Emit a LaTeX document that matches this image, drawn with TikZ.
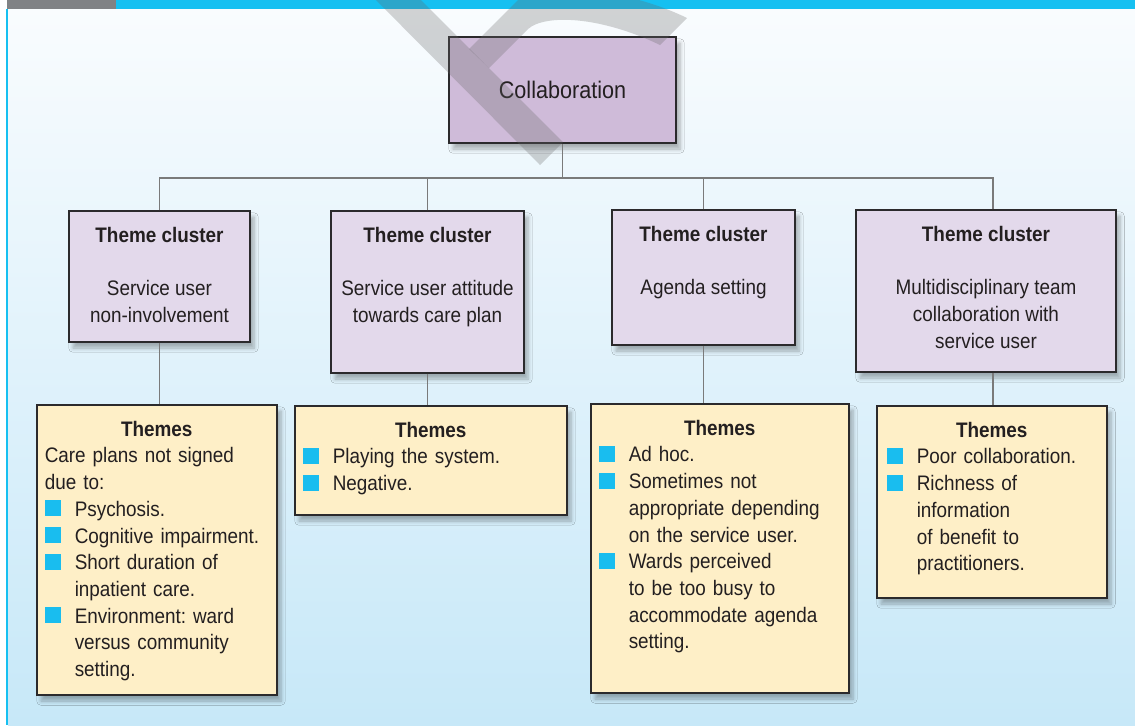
\documentclass[tikz,border=0pt]{standalone}
\usepackage{fontspec}
\setmainfont[FakeStretch=0.9]{Liberation Sans}
\usetikzlibrary{shadows.blur}
\setlength{\parindent}{0pt}
\setlength{\parskip}{0pt}
\frenchspacing
\definecolor{mcyan}{rgb}{0.086, 0.753, 0.945}
\definecolor{mgray}{rgb}{0.502, 0.510, 0.522}
\definecolor{mskytop}{rgb}{0.976, 0.988, 0.996}
\definecolor{mskybot}{rgb}{0.780, 0.910, 0.973}
\definecolor{mlilac}{rgb}{0.812, 0.733, 0.851}
\definecolor{mlavender}{rgb}{0.890, 0.851, 0.922}
\definecolor{mcream}{rgb}{0.996, 0.937, 0.780}
\definecolor{mink}{rgb}{0.137, 0.122, 0.125}
\definecolor{mline}{rgb}{0.478, 0.478, 0.478}
\definecolor{mframe}{rgb}{0.169, 0.165, 0.173}
\definecolor{mbullet}{rgb}{0.098, 0.741, 0.937}
\tikzset{panel/.style = {draw = mframe, line width = 0.65pt, inner sep = 0,
                         blur shadow = {shadow xshift = 2pt, shadow yshift = -3pt,
                                        shadow blur steps = 6, shadow opacity = 30}}}
\tikzset{collabbox/.style = {panel, fill = mlilac, font = \fontsize{12}{14}\selectfont}}
\tikzset{clusterbox/.style = {panel, fill = mlavender}}
\tikzset{themebox/.style = {panel, fill = mcream}}
\tikzset{blurb/.style = {anchor = north, inner sep = 0, align = center}}
\tikzset{notes/.style = {anchor = north west, inner sep = 0, align = left}}
\tikzset{link/.style = {mline, line width = 0.65pt}}
\newcommand{\bitem}[1]{\par\hangindent=15pt\hangafter=1\noindent
  \makebox[15pt][l]{\textcolor{mbullet}{\rule{8pt}{8pt}}}#1\par}
\newcommand{\themeshead}{{\centering\strut\textbf{Themes}\par}}

\begin{document}
\begin{tikzpicture}[x = 0.5pt, y = -0.5pt, font = \fontsize{10.5}{13.35}\selectfont, text = mink]
      \useasboundingbox (0, 0) rectangle (1135, 725);
      \shade [top color = mskytop, bottom color = mskybot] (8, 9) rectangle (1135, 725);
      \fill [mcyan] (6, 9) rectangle (8, 725);
      \fill [mcyan] (7, 0) rectangle (1135, 9);
      \fill [mgray] (7, 0) rectangle (116, 9);

      \node [collabbox, minimum width = 113.5pt, minimum height = 53pt] (collab) at (562.5, 90) {Collaboration};

      \node [clusterbox, minimum width = 90.5pt, minimum height = 65.5pt] (tc1) at (159.5, 276.5) {};
      \node [clusterbox, minimum width = 96.5pt, minimum height = 81pt] (tc2) at (427.5, 292) {};
      \node [clusterbox, minimum width = 91.5pt, minimum height = 67.5pt] (tc3) at (703.5, 277.5) {};
      \node [clusterbox, minimum width = 130pt, minimum height = 81pt] (tc4) at (986, 291) {};

      \node [blurb] (tc1txt) at ([yshift = -6.4pt] tc1.north) {\strut\textbf{Theme cluster}\\[13.35pt]Service user\\non-involvement};
      \node [blurb] (tc2txt) at ([yshift = -6.4pt] tc2.north) {\strut\textbf{Theme cluster}\\[13.35pt]Service user attitude\\towards care plan};
      \node [blurb] (tc3txt) at ([yshift = -6.4pt] tc3.north) {\strut\textbf{Theme cluster}\\[13.35pt]Agenda setting};
      \node [blurb] (tc4txt) at ([yshift = -6.4pt] tc4.north) {\strut\textbf{Theme cluster}\\[13.35pt]Multidisciplinary team\\collaboration with\\service user};

      \node [themebox, minimum width = 120pt, minimum height = 145pt] (th1) at (157, 550) {};
      \node [themebox, minimum width = 136pt, minimum height = 54.5pt] (th2) at (431, 460.5) {};
      \node [themebox, minimum width = 129pt, minimum height = 144.5pt] (th3) at (720, 548.5) {};
      \node [themebox, minimum width = 115pt, minimum height = 96pt] (th4) at (992, 502) {};

      \node [notes, text width = 112pt] (th1txt) at ([xshift = 4pt, yshift = -6.4pt] th1.north west) {%
        \themeshead
        \noindent Care plans not signed\newline due to:\par
        \bitem{Psychosis.}
        \bitem{Cognitive impairment.}
        \bitem{Short duration of\newline inpatient care.}
        \bitem{Environment: ward\newline versus community\newline setting.}};
      \node [notes, text width = 128pt] (th2txt) at ([xshift = 4pt, yshift = -6.4pt] th2.north west) {%
        \themeshead
        \bitem{Playing the system.}
        \bitem{Negative.}};
      \node [notes, text width = 121pt] (th3txt) at ([xshift = 4pt, yshift = -6.4pt] th3.north west) {%
        \themeshead
        \bitem{Ad hoc.}
        \bitem{Sometimes not\newline appropriate depending\newline on the service user.}
        \bitem{Wards perceived\newline to be too busy to\newline accommodate agenda\newline setting.}};
      \node [notes, text width = 105pt] (th4txt) at ([xshift = 5pt, yshift = -6.4pt] th4.north west) {%
        \themeshead
        \bitem{Poor collaboration.}
        \bitem{Richness of\newline information\newline of benefit to\newline practitioners.}};

      \coordinate (bus) at (563, 178);
      \draw [link] (collab.south) -- (collab.south |- bus);
      \draw [link] (tc1.north) |- (bus);
      \draw [link] (tc2.north) |- (bus);
      \draw [link] (tc3.north) |- (bus);
      \draw [link] ([xshift = 3.5pt] tc4.north) |- (bus);

      \draw [link] (tc1.south) -- (tc1.south |- th1.north);
      \draw [link] (tc2.south) -- (tc2.south |- th2.north);
      \draw [link] (tc3.south) -- (tc3.south |- th3.north);
      \draw [link] ([xshift = 3.5pt] tc4.south) -- ([xshift = 3.5pt] tc4.south |- th4.north);

      \begin{scope}
        \clip (0, 0) rectangle (1135, 725);
        \fill [black!60, opacity = 0.28] (356, -20) -- (401, -20) -- (563, 142) -- (540, 165) -- cycle;
        \fill [black!60, opacity = 0.28] (469, 49) -- (489, 68) -- (528, 29)
          .. controls (545, 14) and (600, 16) .. (660, 45) -- (687, 18)
          .. controls (640, -5) and (580, -15) .. (530, -12) -- cycle;
      \end{scope}
    \end{tikzpicture}
\end{document}
